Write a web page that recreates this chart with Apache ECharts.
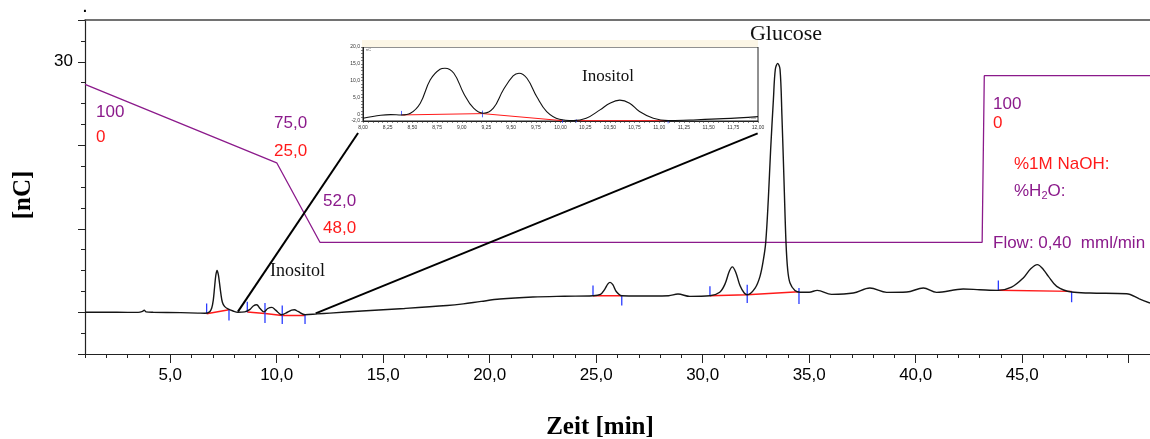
<!DOCTYPE html>
<html>
<head>
<meta charset="utf-8">
<script src="https://cdn.jsdelivr.net/npm/echarts@6/dist/echarts.min.js"></script>
<style>
  html, body { margin: 0; padding: 0; background: #fff; }
  #chart { width: 1150px; height: 439px; }
</style>
</head>
<body>
<div id="chart"></div>
<script>
// Detector trace: retention time (min) and pulsed amperometric signal (nC)
const traceTime = [1.0, 2.5, 3.5, 3.7, 3.78, 3.86, 4.2, 5.5, 6.3, 6.63, 6.85, 6.95, 7.02, 7.08, 7.14, 7.2, 7.26, 7.32, 7.38, 7.45, 7.55, 7.71, 7.95, 8.18,
  8.5, 8.75, 8.9, 9.06, 9.22, 9.4, 9.58, 9.77, 9.95, 10.23, 10.5, 10.7, 10.83, 11.0, 11.33, 11.9, 12.5, 14.0, 16.0, 18.0, 18.76, 19.6,
  20.48, 22.03, 23.5, 24.85, 25.2, 25.4, 25.55, 25.65, 25.78, 25.95, 26.2, 27.0, 27.67, 28.4, 28.84, 29.4, 30.34, 30.8, 31.05, 31.25,
  31.39, 31.55, 31.75, 31.95, 32.09, 32.46, 32.69, 32.85, 32.96, 33.08, 33.19, 33.32, 33.41, 33.52, 33.63, 33.72, 33.82, 33.91, 33.99,
  34.1, 34.33, 34.57, 35.0, 35.38, 36.05, 37.07, 37.85, 38.64, 39.58, 40.36, 40.98, 42.23, 43.0, 43.88, 44.5, 45.05, 45.4, 45.71, 46.0,
  46.23, 46.62, 47.32, 48.18, 49.9, 50.5, 51.0];
const traceSignal = [0.0, 0.0, -0.02, 0.1, 0.25, 0.05, 0.0, -0.05, -0.1, -0.12, 0.05, 0.5, 1.4, 2.9, 4.4, 5.0, 4.5, 3.4, 2.2, 1.2, 0.7, 0.4, 0.15, 0.0,
  0.05, 0.35, 0.75, 0.9, 0.45, 0.05, 0.45, 0.58, 0.25, -0.3, 0.0, 0.25, 0.3, 0.1, -0.3, -0.2, -0.1, 0.15, 0.45, 0.8, 1.0, 1.3,
  1.58, 1.82, 1.92, 1.98, 2.15, 2.75, 3.4, 3.58, 3.3, 2.45, 1.98, 1.95, 1.95, 1.98, 2.18, 1.9, 1.98, 2.4, 3.4, 4.9,
  5.43, 4.8, 3.2, 2.3, 2.1, 2.9, 4.3, 6.3, 8.4, 13.5, 19.5, 25.5, 29.1, 29.8, 29.1, 23.5, 15.5, 8.4, 5.1,
  3.5, 2.6, 2.4, 2.4, 2.62, 2.14, 2.3, 2.9, 2.38, 2.42, 2.9, 2.38, 2.78, 2.7, 2.62, 3.0, 4.1, 5.2, 5.7, 5.1,
  4.3, 3.1, 2.42, 2.3, 2.22, 1.6, 1.1];

// Eluent programme drawn on the signal scale
const gradientTime = [1.0, 10.0, 12.03, 43.12, 43.22, 51.0];
const gradientLevel = [27.3, 17.9, 8.38, 8.38, 28.33, 28.33];

// Integration baselines (segments split by null)
const baselineTime = [6.71, 7.76, null, 8.62, 9.45, 10.26, 11.33, null, 24.85, 26.2, null, 30.34, 32.09, 34.52, null, 43.88, 47.32];
const baselineLevel = [-0.18, 0.3, null, 0.02, -0.14, -0.38, -0.38, null, 1.98, 1.98, null, 1.98, 2.1, 2.45, null, 2.62, 2.5];

// Peak start / end markers
const markTime = [6.71, 7.76, 8.62, 9.45, 10.26, 11.33, 24.85, 26.2, 30.34, 32.09, 34.52, 43.88, 47.32];
const markFrom = [-0.15, 0.3, 0.0, 1.1, 0.8, -0.3, 1.98, 1.98, 1.98, 3.3, 2.9, 2.62, 2.5];
const markTo = [1.05, -1.0, 1.25, -1.3, -1.4, -1.4, 3.2, 0.8, 3.1, 1.1, 1.0, 3.8, 1.2];

// Leader lines from the 8-12 min window up to the enlarged view
const leaderStartTime = [8.18, 11.83];
const leaderStartLevel = [0.07, -0.13];
const leaderEndTime = [13.82, 32.58];
const leaderEndLevel = [21.47, 21.43];

// Enlarged 8-12 min window
const zoomTime = [8.0, 8.18, 8.28, 8.39, 8.48, 8.58, 8.68, 8.78, 8.83, 8.92, 9.02, 9.12, 9.22, 9.32, 9.42, 9.52, 9.58, 9.66, 9.76,
  9.86, 9.99, 10.13, 10.26, 10.4, 10.5, 10.6, 10.7, 10.8, 10.94, 11.09, 11.31, 11.65, 12.0];
const zoomSignal = [-1.2, -0.3, -0.1, -0.2, 0.3, 3.3, 10.2, 13.4, 13.7, 12.2, 6.2, 1.8, 0.3, 1.8, 7.2, 11.4, 12.2, 10.7, 5.2,
  0.8, -1.5, -1.9, -1.2, 1.3, 3.3, 4.2, 3.3, 0.8, -1.2, -1.9, -1.7, -1.3, -0.7];
const zoomBaselineTime = [8.39, 9.21, 10.02, null, 10.16, 11.09];
const zoomBaselineLevel = [-0.2, 0.2, -1.9, null, -1.9, -1.9];
const zoomMarkTime = [8.39, 9.21, 10.02, 10.16, 11.09];
const zoomMarkFrom = [-0.3, 1.1, -1.6, -1.5, -1.8];
const zoomMarkTo = [1.0, -0.9, -2.6, -2.4, -2.7];

// Axis tick values
const xTicks = Array.from({ length: 51 }, (_, i) => i + 1);
const xLabelValues = [5, 10, 15, 20, 25, 30, 35, 40, 45];
const xMajorTicks = [5, 10, 15, 20, 25, 30, 35, 40, 45, 50];
const yTicks = Array.from({ length: 17 }, (_, i) => -5 + i * 2.5);
const yLabelValues = [30];
const yMajorTicks = [-5, 0, 10, 20, 30, 35];
const zoomXLabels = [8, 8.25, 8.5, 8.75, 9, 9.25, 9.5, 9.75, 10, 10.25, 10.5, 10.75, 11, 11.25, 11.5, 11.75, 12];
const zoomXTicks = Array.from({ length: 81 }, (_, i) => +(8 + i * 0.05).toFixed(2));
const zoomYLabels = [-2, 0, 5, 10, 15, 20];
const zoomYTicks = Array.from({ length: 23 }, (_, i) => i - 2);

const PURPLE = '#8b1a8b';
const RED = '#ff1a1a';
const BLUE = '#2a3cff';
const SANS = '"Liberation Sans", Arial, sans-serif';
const SERIF = '"Liberation Serif", "Times New Roman", serif';

const zip = (xs, ys) => xs.map((x, i) => [x, ys[i]]);
function segments(xs, ys) {
  const out = [[]];
  xs.forEach((x, i) => {
    if (x === null) out.push([]);
    else out[out.length - 1].push([x, ys[i]]);
  });
  return out.filter(s => s.length);
}
const comma = (v, d) => v.toFixed(d).replace('.', ',');

function tickMarks(times, from, to, xIdx, yIdx, width) {
  return {
    type: 'custom',
    xAxisIndex: xIdx, yAxisIndex: yIdx,
    data: times.map((t, i) => [t, from[i], to[i]]),
    renderItem: (params, api) => {
      const a = api.coord([api.value(0), api.value(1)]);
      const b = api.coord([api.value(0), api.value(2)]);
      return { type: 'line', shape: { x1: a[0], y1: a[1], x2: b[0], y2: b[1] },
        style: { stroke: BLUE, lineWidth: width } };
    },
    z: 4, silent: true
  };
}

const series = [];
// eluent programme
series.push({ type: 'line', xAxisIndex: 0, yAxisIndex: 0, data: zip(gradientTime, gradientLevel),
  showSymbol: false, lineStyle: { color: PURPLE, width: 1.3 }, z: 2, silent: true });
// leader lines
leaderStartTime.forEach((t, i) => {
  series.push({ type: 'line', xAxisIndex: 0, yAxisIndex: 0,
    data: [[t, leaderStartLevel[i]], [leaderEndTime[i], leaderEndLevel[i]]],
    showSymbol: false, lineStyle: { color: '#000', width: 2 }, z: 2, silent: true });
});
// integration baselines
segments(baselineTime, baselineLevel).forEach(seg => {
  series.push({ type: 'line', xAxisIndex: 0, yAxisIndex: 0, data: seg, showSymbol: false,
    lineStyle: { color: RED, width: 1.5 }, z: 3, silent: true });
});
// detector trace
series.push({ type: 'line', xAxisIndex: 0, yAxisIndex: 0, data: zip(traceTime, traceSignal),
  showSymbol: false, smooth: 0.35, lineStyle: { color: '#151515', width: 1.4 }, z: 5, silent: true });
series.push(tickMarks(markTime, markFrom, markTo, 0, 0, 1.3));

// enlarged view
segments(zoomBaselineTime, zoomBaselineLevel).forEach(seg => {
  series.push({ type: 'line', xAxisIndex: 3, yAxisIndex: 2, data: seg, showSymbol: false,
    lineStyle: { color: RED, width: 1 }, z: 3, silent: true });
});
series.push({ type: 'line', xAxisIndex: 3, yAxisIndex: 2, data: zip(zoomTime, zoomSignal),
  showSymbol: false, smooth: 0.4, lineStyle: { color: '#111', width: 1.1 }, z: 5, silent: true });
series.push(tickMarks(zoomMarkTime, zoomMarkFrom, zoomMarkTo, 3, 2, 0.8));

const axisColor = '#222';
const tinyLabel = { fontSize: 5, color: '#333', fontFamily: SANS };

const option = {
  animation: false,
  backgroundColor: '#fff',
  grid: [
    { left: 85, right: 0, top: 20, bottom: 85 },
    { left: 363, top: 47, width: 395, height: 74, show: true, borderColor: '#222', borderWidth: 1 }
  ],
  xAxis: [
    { gridIndex: 0, type: 'value', min: 1, max: 51, position: 'bottom',
      axisLine: { onZero: false, lineStyle: { color: axisColor, width: 1.2 } },
      axisTick: { customValues: xTicks, length: 4, lineStyle: { color: axisColor } },
      axisLabel: { customValues: xLabelValues, formatter: v => comma(v, 1), margin: 13,
        fontSize: 17, color: '#000', fontFamily: SANS },
      splitLine: { show: false } },
    { gridIndex: 0, type: 'value', min: 1, max: 51, position: 'bottom',
      axisLine: { show: false, onZero: false },
      axisTick: { customValues: xMajorTicks, length: 9, lineStyle: { color: axisColor } },
      axisLabel: { show: false }, splitLine: { show: false } },
    { gridIndex: 0, type: 'value', min: 1, max: 51, position: 'top',
      axisLine: { onZero: false, lineStyle: { color: '#444', width: 1.5 } },
      axisTick: { show: false }, axisLabel: { show: false }, splitLine: { show: false } },
    { gridIndex: 1, type: 'value', min: 8, max: 12, position: 'bottom',
      axisLine: { onZero: false, lineStyle: { color: '#222', width: 1 } },
      axisTick: { customValues: zoomXTicks, length: 2, lineStyle: { color: '#333', width: 0.6 } },
      axisLabel: { customValues: zoomXLabels, formatter: v => comma(v, 2), margin: 4, ...tinyLabel },
      splitLine: { show: false } }
  ],
  yAxis: [
    { gridIndex: 0, type: 'value', min: -5, max: 35, position: 'left',
      axisLine: { show: true, onZero: false, lineStyle: { color: axisColor, width: 1.2 } },
      axisTick: { show: true, customValues: yTicks, length: 4, lineStyle: { color: axisColor } },
      axisLabel: { customValues: yLabelValues, margin: 12, fontSize: 17, color: '#000', fontFamily: SANS },
      splitLine: { show: false } },
    { gridIndex: 0, type: 'value', min: -5, max: 35, position: 'left',
      axisLine: { show: false, onZero: false },
      axisTick: { show: true, customValues: yMajorTicks, length: 7, lineStyle: { color: axisColor } },
      axisLabel: { show: false }, splitLine: { show: false } },
    { gridIndex: 1, type: 'value', min: -2, max: 20, position: 'left',
      axisLine: { show: true, onZero: false, lineStyle: { color: '#222', width: 1 } },
      axisTick: { show: true, customValues: zoomYTicks, length: 2, lineStyle: { color: '#333', width: 0.6 } },
      axisLabel: { customValues: zoomYLabels, formatter: v => (v === 0 ? '0' : comma(v, 1)), margin: 3, ...tinyLabel },
      splitLine: { show: false } }
  ],
  series: series,
  graphic: [
    // header strip above the enlarged view
    { type: 'rect', shape: { x: 362, y: 40, width: 396, height: 7 }, style: { fill: '#fcf6e6' }, z: 1 },
    { type: 'text', x: 366, y: 50, style: { text: 'nC', font: '4px ' + SANS, fill: '#555', verticalAlign: 'middle' }, z: 20 },
    { type: 'text', x: 756, y: 118, style: { text: 'min', font: '4px ' + SANS, fill: '#555', align: 'right', verticalAlign: 'middle' }, z: 20 },
    { type: 'text', x: 582, y: 77, style: { text: 'Inositol', font: '17px ' + SERIF, fill: '#111', verticalAlign: 'middle' }, z: 20 },

    { type: 'text', x: 85, y: 8, style: { text: '.', font: 'bold 14px ' + SANS, fill: '#000', align: 'center', verticalAlign: 'middle' } },
    { type: 'text', x: 786, y: 34, style: { text: 'Glucose', font: '22px ' + SERIF, fill: '#111', align: 'center', verticalAlign: 'middle' } },
    { type: 'text', x: 270, y: 271, style: { text: 'Inositol', font: '18px ' + SERIF, fill: '#111', verticalAlign: 'middle' } },

    // eluent composition
    { type: 'text', x: 96, y: 112, style: { text: '100', font: '17px ' + SANS, fill: PURPLE, verticalAlign: 'middle' } },
    { type: 'text', x: 96, y: 137, style: { text: '0', font: '17px ' + SANS, fill: RED, verticalAlign: 'middle' } },
    { type: 'text', x: 274, y: 123, style: { text: '75,0', font: '17px ' + SANS, fill: PURPLE, verticalAlign: 'middle' } },
    { type: 'text', x: 274, y: 151, style: { text: '25,0', font: '17px ' + SANS, fill: RED, verticalAlign: 'middle' } },
    { type: 'text', x: 323, y: 201, style: { text: '52,0', font: '17px ' + SANS, fill: PURPLE, verticalAlign: 'middle' } },
    { type: 'text', x: 323, y: 228, style: { text: '48,0', font: '17px ' + SANS, fill: RED, verticalAlign: 'middle' } },
    { type: 'text', x: 993, y: 104, style: { text: '100', font: '17px ' + SANS, fill: PURPLE, verticalAlign: 'middle' } },
    { type: 'text', x: 993, y: 123, style: { text: '0', font: '17px ' + SANS, fill: RED, verticalAlign: 'middle' } },
    { type: 'text', x: 1014, y: 164, style: { text: '%1M NaOH:', font: '17px ' + SANS, fill: RED, verticalAlign: 'middle' } },
    { type: 'text', x: 1014, y: 191, style: {
        text: '{a|%H}{s|2}{a|O:}', verticalAlign: 'middle',
        rich: { a: { fontSize: 17, fontFamily: SANS, fill: PURPLE, color: PURPLE, lineHeight: 20 },
                s: { fontSize: 11, fontFamily: SANS, fill: PURPLE, color: PURPLE, lineHeight: 10, verticalAlign: 'bottom' } } } },
    { type: 'text', x: 993, y: 243, style: { text: 'Flow: 0,40  mml/min', font: '17px ' + SANS, fill: PURPLE, verticalAlign: 'middle' } },

    // axis titles
    { type: 'text', x: 600, y: 428, style: { text: 'Zeit [min]', font: 'bold 25px ' + SERIF, fill: '#000', align: 'center', verticalAlign: 'middle' } },
    { type: 'text', x: 24, y: 195, rotation: Math.PI / 2,
      style: { text: '[nC]', font: 'bold 25px ' + SERIF, fill: '#000', align: 'center', verticalAlign: 'middle' } }
  ]
};

const chart = echarts.init(document.getElementById('chart'), null, { renderer: 'canvas' });
chart.setOption(option);
</script>
</body>
</html>
